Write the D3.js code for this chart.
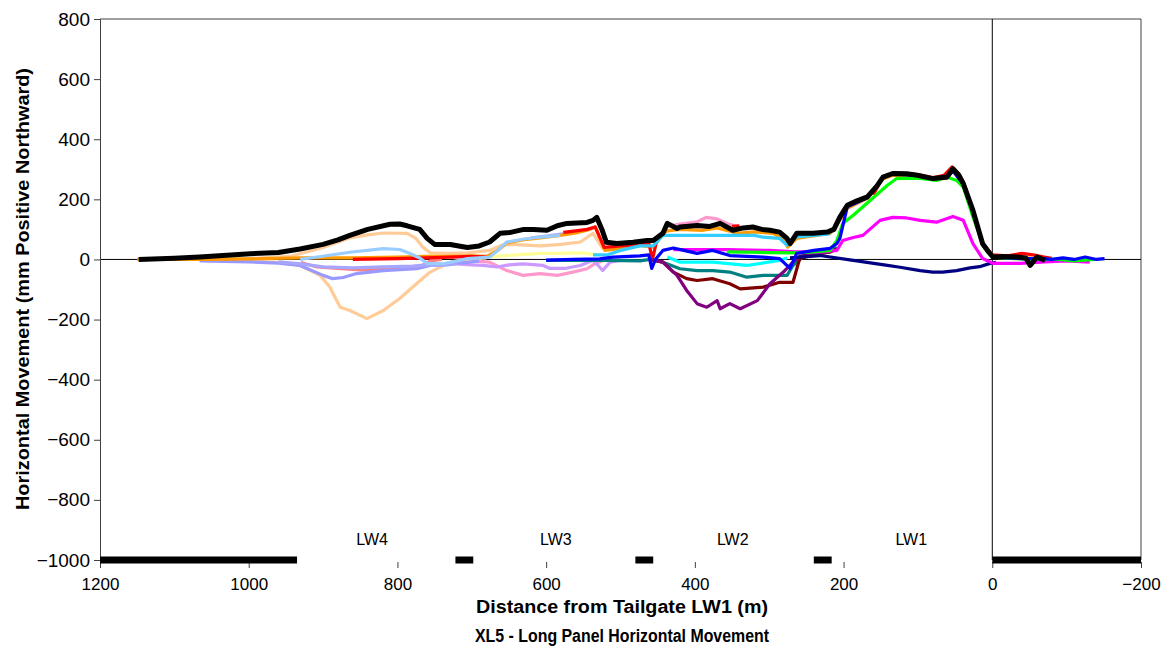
<!DOCTYPE html>
<html>
<head>
<meta charset="utf-8">
<script src="https://cdn.jsdelivr.net/npm/d3@7"></script>
<style>
  html, body { margin: 0; padding: 0; background: #ffffff; }
  svg { display: block; }
  text { font-family: "Liberation Sans", Arial, sans-serif; fill: #000; }
</style>
</head>
<body>
<svg id="chart" width="1163" height="654"></svg>
<script>
// ---------------- DATA ----------------
const xTicks = [1200, 1000, 800, 600, 400, 200, 0, -200];
const yTicks = [800, 600, 400, 200, 0, -200, -400, -600, -800, -1000];
const panelNames = ["LW4", "LW3", "LW2", "LW1"];
const panelCentres = [834, 587, 349, 109];
const pillarStarts = [1200, 722, 480, 240, 0];
const pillarEnds = [935, 698, 456, 216, -200];

const seriesNames = ["Yellow", "Pink", "LightPurple", "PeachLow", "PeachHigh", "Salmon",
  "LavenderA", "LavenderB", "Orange", "Red", "LightBlue", "Teal", "CyanLow", "DarkRed",
  "Purple", "Navy", "Magenta", "Green", "CyanHigh", "Blue", "Black"];

const sYellow = [[700,5],[666,11],[640,15],[608,20],[580,20],[554,22],[530,15]];
const sPink = [[700,-5],[676,-9],[653,-37],[631,-53],[608,-47],[585,-53],[564,-42],[545,-31],[535,-15],[525,-5],null,
  [437,110],[420,118],[397,125],[385,140],[370,135],[355,118],[340,108]];
const sLightPurple = [[720,-15],[700,-18],[685,-20],[666,-25],[650,-18],[631,-15],[604,-20],[595,-30],[575,-30],[554,-20],[537,-3],[530,-20],[524,-37],[514,-9],[501,-3]];
const sPeachLow = [[1000,-5],[960,-10],[931,-20],[904,-53],[891,-92],[877,-159],[864,-170],[841,-197],[819,-170],[797,-130],[774,-80],[756,-42],[729,-9],[706,0],[680,5]];
const sPeachHigh = [[1066,0],[998,3],[945,10],[922,25],[900,40],[864,72],[840,82],[819,88],[787,87],[775,70],[766,41],[756,22],[729,20],[706,22],[676,30],[660,47],[645,50],[608,45],[580,50],[554,58],[537,87],[524,37],[510,35],[500,40]];
const sSalmon = [[930,-10],[908,-25],[880,-30],[850,-35],[820,-33],[790,-30],[770,-25],[756,-5],[740,0]];
const sLavenderA = [[1066,-5],[1000,-8],[960,-12],[931,-20],[900,-53],[887,-64],[873,-60],[855,-47],[819,-37],[774,-31],[756,-20],[729,-15],[706,-10],[690,-5]];
const sLavenderB = [[960,-8],[930,-15],[900,-25],[860,-28],[820,-25],[780,-22],[760,-18],[740,-20],[720,-15],null,
  [620,72],[600,78],[577,85]];
const sOrange = [[1150,0],[1050,0],[1000,2],[930,5],[860,5],[800,8],[760,10],[729,10],[700,12],[680,10],[665,30],[653,55],[630,66],[608,72],[581,80],[560,88],[545,97],[534,108],[521,30],[501,36],[474,47],[456,41],[443,87],[437,95],[420,100],[389,97],[370,105],[343,87],[320,92],[295,87],[282,70],[275,41],[263,70],[250,75],[218,87],[205,130],[195,170],[168,203],[147,268],[134,280],[101,276],[80,266],[61,270],[53,295],[39,248],[26,160],[13,50],[0,12],[-20,5],[-40,8],[-60,0],[-75,-5]];
const sRed = [[860,0],[800,3],[760,5],[729,8],[700,10],[680,8],null,
  [577,90],[560,95],[545,100],[534,108],[522,40],[500,45],[475,48],[462,55],[457,0],[452,55],[443,85],null,
  [350,110],[340,112],null,
  [160,215],[147,275],[130,288],[100,282],[80,272],[65,280],[54,308],[45,285],[39,258],[26,165],[13,55],[0,15],[-20,12],[-40,20],[-55,15],[-70,8],[-80,4]];
const sLightBlue = [[931,0],[908,8],[864,24],[819,36],[797,33],[783,20],[770,5],[760,-13],[740,-15],[720,-5],[706,3],[676,8],[665,30],[653,58],[630,68],[608,74],[581,80]];
const sTeal = [[600,-3],[520,-3],[474,-5],[460,0],[443,-9],[420,-31],[397,-37],[376,-37],[353,-42],[330,-59],[308,-53],[276,-53],[268,-20],[249,20],[232,20],[218,30],[209,40]];
const sCyanLow = [[437,8],[420,-9],[376,-9],[330,-20],[286,-3],[276,5]];
const sDarkRed = [[460,0],[443,-9],[429,-42],[411,-64],[397,-70],[376,-64],[353,-81],[339,-98],[308,-92],[286,-76],[268,-76],[259,3],[240,15],[218,25],[209,35]];
const sPurple = [[460,0],[443,-9],[424,-53],[411,-103],[397,-147],[384,-159],[370,-137],[366,-164],[353,-147],[339,-164],[316,-137],[299,-81],[281,-42],[268,-9],[259,10],[240,20],[218,25]];
const sNavy = [[272,5],[232,13],[187,-3],[141,-20],[124,-26],[97,-37],[80,-42],[67,-42],[48,-37],[30,-28],[17,-24],[3,-13],[-5,-10]];
const sMagenta = [[429,33],[357,33],[300,30],[265,25],[232,25],[209,30],[201,63],[187,73],[174,80],[151,130],[134,140],[115,138],[97,130],[75,124],[53,143],[39,130],[26,53],[13,3],[-1,-13],[-37,-13],[-70,-8],[-100,-5],[-131,-9]];
const sGreen = [[357,25],[300,23],[265,22],[240,25],[218,30],[209,63],[201,120],[187,147],[164,197],[141,247],[128,270],[97,270],[75,263],[61,274],[48,263],[39,241],[26,141],[13,53],[-1,8],[-30,3],[-60,0],[-90,0],[-110,-5],[-138,0]];
const sCyanHigh = [[537,15],[518,15],[500,30],[474,45],[456,45],[443,80],[420,80],[370,80],[320,80],[308,74],[286,70],[276,47],[263,75],[240,80],[218,85]];
const sBlue = [[600,-2],[564,0],[528,2],[510,8],[474,12],[462,15],[458,-30],[453,0],[443,30],[429,38],[415,30],[397,20],[376,30],[353,13],[330,10],[308,8],[286,3],[272,-30],[263,20],[240,30],[218,37],[209,53],[205,70],[195,175],[168,205],[147,272],[134,284],[101,280],[80,268],[61,272],[53,295],[39,250],[26,160],[13,50],[0,10],[-20,5],[-40,3],[-68,3],[-80,0],[-95,5],[-110,0],[-125,8],[-140,0],[-151,3]];
const sBlack = [[1148,0],[1100,4],[1066,8],[998,19],[960,23],[931,35],[900,50],[880,65],[864,80],[840,100],[810,117],[797,118],[787,112],[770,100],[760,70],[750,50],[729,50],[706,40],[690,45],[676,58],[662,87],[648,90],[630,100],[617,100],[599,97],[585,112],[572,120],[545,123],[537,130],[532,140],[525,100],[519,57],[505,53],[483,57],[464,63],[456,63],[443,87],[437,120],[424,103],[420,108],[397,113],[380,110],[366,120],[349,97],[335,105],[322,108],[310,100],[299,97],[286,91],[276,70],[272,53],[263,87],[241,87],[222,91],[213,100],[205,141],[195,180],[182,195],[168,208],[155,245],[147,274],[134,286],[115,285],[101,280],[80,269],[61,274],[53,302],[45,280],[39,252],[26,163],[13,52],[5,25],[-1,8],[-15,10],[-33,8],[-45,5],[-51,-20],[-60,8],[-71,-3]];

const seriesData = [sYellow, sPink, sLightPurple, sPeachLow, sPeachHigh, sSalmon, sLavenderA, sLavenderB,
  sOrange, sRed, sLightBlue, sTeal, sCyanLow, sDarkRed, sPurple, sNavy, sMagenta, sGreen, sCyanHigh, sBlue, sBlack];

// ---------------- STYLE ----------------
const seriesColors = ["#FFFF99", "#FF99CC", "#CC99FF", "#FFCC99", "#FFCC99", "#FF8080",
  "#9999FF", "#A6A6FF", "#FF9900", "#FF0000", "#99CCFF", "#008080", "#00FFFF", "#800000",
  "#800080", "#000080", "#FF00FF", "#00FF00", "#33CCFF", "#0000FF", "#000000"];
const seriesWidths = seriesNames.map(n => n === "Black" ? 5 : 3.2);

const plot = { left: 100, right: 1141, top: 19, bottom: 560 };

const svg = d3.select("#chart");
const x = d3.scaleLinear().domain([1200, -200]).range([plot.left, plot.right]);
const y = d3.scaleLinear().domain([-1000, 800]).range([plot.bottom, plot.top]);

// plot frame (top and right)
svg.append("line").attr("x1", plot.left).attr("x2", plot.right).attr("y1", plot.top).attr("y2", plot.top)
  .attr("stroke", "#404040").attr("stroke-width", 1);
svg.append("line").attr("x1", plot.right).attr("x2", plot.right).attr("y1", plot.top).attr("y2", plot.bottom)
  .attr("stroke", "#404040").attr("stroke-width", 1);

// zero lines
svg.append("line").attr("x1", plot.left).attr("x2", plot.right).attr("y1", y(0)).attr("y2", y(0))
  .attr("stroke", "#000").attr("stroke-width", 1);
svg.append("line").attr("x1", x(0)).attr("x2", x(0)).attr("y1", plot.top).attr("y2", plot.bottom)
  .attr("stroke", "#000").attr("stroke-width", 1);

// y axis
const yAxis = d3.axisLeft(y).tickValues(yTicks).tickSize(6).tickPadding(4).tickFormat(d3.format("d"));
const gy = svg.append("g").attr("transform", `translate(${plot.left},0)`).call(yAxis);
gy.select(".domain").attr("stroke", "#404040");
gy.selectAll(".tick line").attr("stroke", "#404040");
gy.selectAll(".tick text").style("font-size", "19px").attr("font-family", "Liberation Sans, Arial, sans-serif");

// x axis (ticks only, below the pillar bars)
const xAxis = d3.axisBottom(x).tickValues(xTicks).tickSize(6).tickPadding(10).tickFormat(d3.format("d"));
const gx = svg.append("g").attr("transform", `translate(0,${plot.bottom + 2})`).call(xAxis);
gx.select(".domain").remove();
gx.selectAll(".tick line").attr("stroke", "#404040");
gx.selectAll(".tick text").style("font-size", "17px").attr("font-family", "Liberation Sans, Arial, sans-serif");

// pillars
svg.append("g").selectAll("line").data(pillarStarts).join("line")
  .attr("x1", d => x(d)).attr("x2", (d, i) => x(pillarEnds[i]))
  .attr("y1", y(-1000)).attr("y2", y(-1000))
  .attr("stroke", "#000").attr("stroke-width", 7);

// panel labels
svg.append("g").selectAll("text").data(panelNames).join("text")
  .attr("x", (d, i) => x(panelCentres[i])).attr("y", y(-1000) - 15)
  .attr("text-anchor", "middle").style("font-size", "16px").text(d => d);

// series
const line = d3.line().defined(d => d != null).x(d => x(d[0])).y(d => y(d[1]));
svg.append("g").selectAll("path").data(seriesData).join("path")
  .attr("d", d => line(d))
  .attr("fill", "none")
  .attr("stroke", (d, i) => seriesColors[i])
  .attr("stroke-width", (d, i) => seriesWidths[i])
  .attr("stroke-linejoin", "round");

// titles
svg.append("text").attr("x", 622).attr("y", 613)
  .attr("text-anchor", "middle").style("font-size", "18px").style("font-weight", "bold")
  .attr("textLength", 292).attr("lengthAdjust", "spacingAndGlyphs")
  .text("Distance from Tailgate LW1 (m)");
svg.append("text").attr("x", 622).attr("y", 642)
  .attr("text-anchor", "middle").style("font-size", "18px").style("font-weight", "bold")
  .attr("textLength", 294).attr("lengthAdjust", "spacingAndGlyphs")
  .text("XL5 - Long Panel Horizontal Movement");
svg.append("text").attr("transform", `translate(29,289) rotate(-90)`)
  .attr("text-anchor", "middle").style("font-size", "18px").style("font-weight", "bold")
  .attr("textLength", 442).attr("lengthAdjust", "spacingAndGlyphs")
  .text("Horizontal Movement (mm Positive Northward)");
</script>
</body>
</html>
